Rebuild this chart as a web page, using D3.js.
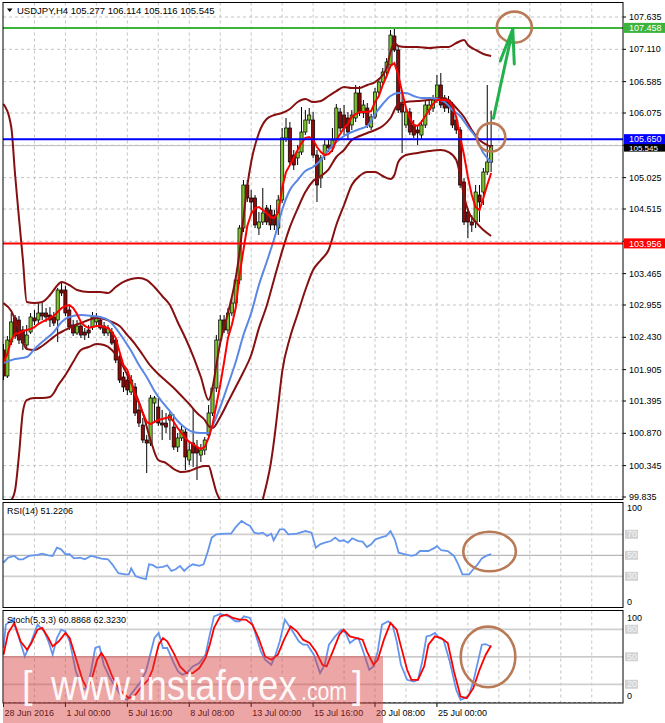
<!DOCTYPE html>
<html><head><meta charset="utf-8">
<script src="https://cdn.jsdelivr.net/npm/d3@7"></script>
<style>
body{margin:0;background:#fff}
svg{display:block}
text{font-family:"Liberation Sans",Arial,sans-serif}
</style>
</head><body>
<svg id="c" width="665" height="723"></svg>
<script>
// ---------------- DATA ----------------
const symbolTitle = "USDJPY,H4";
const lastOHLC = [105.277, 106.114, 105.116, 105.545];
const dateLabels = ["28 Jun 2016","1 Jul 00:00","5 Jul 16:00","8 Jul 08:00","13 Jul 00:00","15 Jul 16:00","20 Jul 08:00","25 Jul 00:00"];
const dateLabelBars = [0,16,32,48,64,80,96,112];
const priceTicks = [107.635,107.110,106.585,106.075,105.550,105.025,104.515,103.990,103.465,102.955,102.430,101.905,101.395,100.870,100.345,99.835];
const hiddenTickLabels = [105.550,103.990];
const hLineValues = [107.458,105.650,103.956];
const bidPrice = 105.545;

const open = [102.224,101.801,102.354,102.744,102.711,102.549,102.305,102.516,102.744,102.711,
102.825,102.825,102.792,102.760,102.711,103.199,103.199,102.874,102.630,102.500,
102.614,102.516,102.549,102.597,102.679,102.711,102.614,102.500,102.516,102.386,
102.110,101.785,101.736,101.541,101.622,101.249,101.005,100.761,100.712,101.362,
101.297,101.037,101.037,101.086,100.972,100.647,100.794,100.891,100.436,100.712,
100.647,100.517,100.599,100.842,101.200,101.606,102.386,102.711,102.549,102.825,
102.987,103.361,104.206,104.905,104.694,104.694,104.206,104.304,104.531,104.499,
104.417,104.206,104.661,105.669,105.831,105.392,105.344,105.441,105.766,105.961,
105.961,105.392,105.019,105.392,105.555,105.506,105.636,106.091,106.042,105.994,
105.880,105.994,106.400,106.075,106.156,105.847,106.010,106.416,106.578,106.741,
106.855,107.326,107.099,106.221,105.880,106.091,105.880,105.799,105.717,105.880,
106.124,106.156,106.286,106.530,106.319,106.286,106.205,105.961,105.799,104.954,
104.466,104.304,104.304,104.742,104.791,105.116,105.277];
const high = [102.321,102.451,102.825,102.792,102.776,102.614,102.630,102.825,102.874,102.987,
102.987,102.906,102.922,102.841,103.231,103.312,103.264,102.939,102.711,102.711,
102.679,102.581,102.630,102.841,102.825,102.776,102.679,102.630,102.581,102.419,
102.142,101.866,101.866,101.817,101.687,101.362,101.119,100.842,101.492,101.476,
101.444,101.249,101.200,101.216,101.184,100.875,101.005,100.956,100.729,101.281,
100.761,100.696,100.810,101.330,101.655,102.467,102.792,102.792,102.906,103.069,
103.442,104.255,104.986,104.986,104.824,104.742,104.466,104.856,104.580,104.580,
104.499,104.742,105.831,105.994,105.929,105.474,105.555,106.172,106.124,106.156,
106.091,105.474,105.392,105.636,105.636,105.831,106.221,106.156,106.205,106.091,
106.124,106.530,106.514,106.286,106.237,106.059,106.481,106.644,106.806,106.968,
107.424,107.472,107.180,106.416,106.156,106.156,105.961,105.864,105.961,106.286,
106.286,106.367,106.692,106.725,106.367,106.351,106.254,106.026,105.847,105.019,
104.531,104.417,104.905,104.905,105.181,106.530,106.114];
const low = [101.736,101.769,102.305,102.402,102.321,102.224,102.256,102.484,102.630,102.646,
102.711,102.679,102.597,102.614,102.354,103.101,102.776,102.549,102.451,102.467,
102.419,102.386,102.419,102.549,102.614,102.549,102.451,102.451,102.305,102.012,
101.687,101.541,101.492,101.492,101.151,100.972,100.712,100.225,100.664,101.037,
100.989,100.761,100.875,100.761,100.599,100.566,100.745,100.274,100.355,100.322,
100.111,100.403,100.517,100.794,101.151,101.541,102.305,102.500,102.484,102.776,
102.922,103.296,104.141,104.629,104.417,104.206,104.092,104.255,104.255,104.174,
104.174,104.092,104.612,105.604,105.230,105.149,105.230,105.392,105.717,105.896,
105.344,104.629,104.856,105.311,105.441,105.441,105.587,105.766,105.717,105.636,
105.799,105.929,106.026,105.994,105.831,105.799,105.977,106.367,106.530,106.676,
106.806,107.066,106.075,105.425,105.831,105.717,105.669,105.555,105.636,105.831,
106.042,106.091,106.237,106.156,106.091,106.075,105.831,105.734,104.856,104.255,
104.044,104.141,104.206,104.304,104.580,105.067,105.116];
const close = [101.801,102.386,102.679,102.451,102.386,102.337,102.467,102.760,102.695,102.825,
102.776,102.760,102.711,102.662,103.199,103.150,102.825,102.597,102.500,102.614,
102.467,102.467,102.500,102.760,102.744,102.581,102.500,102.581,102.337,102.061,
101.736,101.622,101.574,101.736,101.200,101.037,100.761,100.712,101.444,101.444,
101.037,101.005,100.972,101.167,100.647,100.794,100.924,100.485,100.599,100.550,
100.550,100.599,100.761,101.200,101.606,102.386,102.711,102.549,102.825,102.987,
103.361,104.206,104.905,104.694,104.629,104.255,104.304,104.450,104.304,104.255,
104.255,104.661,105.669,105.831,105.279,105.230,105.441,105.766,105.961,106.042,
105.392,104.905,105.344,105.555,105.506,105.636,106.156,105.831,105.831,105.766,
106.042,106.400,106.075,106.205,105.880,106.010,106.416,106.578,106.741,106.903,
107.342,107.099,106.124,106.091,106.091,105.766,105.717,105.750,105.880,106.205,
106.205,106.286,106.530,106.205,106.156,106.156,105.880,105.799,104.905,104.304,
104.304,104.255,104.791,104.629,105.116,105.279,105.545];

// fast moving average (red), one value per bar
const fastMA = [102.028,102.158,102.386,102.484,102.500,102.532,102.549,102.565,102.597,102.646,
102.679,102.711,102.744,102.776,102.841,102.906,102.939,102.955,102.906,102.809,
102.679,102.614,102.581,102.597,102.614,102.614,102.597,102.581,102.516,102.419,
102.191,101.980,101.899,101.704,101.492,101.362,101.200,101.054,101.021,101.054,
101.086,101.102,101.119,101.135,101.054,100.956,100.875,100.794,100.729,100.696,
100.647,100.615,100.647,100.794,101.005,101.330,101.655,102.028,102.419,102.630,
102.906,103.442,103.849,104.239,104.434,104.531,104.547,104.499,104.450,104.385,
104.369,104.466,104.856,105.116,105.230,105.344,105.474,105.587,105.669,105.685,
105.636,105.522,105.441,105.392,105.409,105.474,105.636,105.734,105.831,105.896,
106.010,106.059,106.091,106.091,106.091,106.107,106.254,106.351,106.530,106.676,
106.839,106.887,106.692,106.416,106.156,105.994,105.880,105.864,105.929,106.026,
106.124,106.221,106.286,106.286,106.286,106.270,106.189,106.010,105.685,105.392,
105.035,104.742,104.547,104.499,104.694,104.905,105.100];

// slow moving average (blue): [bar, price]
const slowMA = [[0,102.012],[3,102.077],[6,102.110],[8,102.240],[10,102.354],[13,102.516],[15,102.679],[17,102.760],[20,102.792],[23,102.776],[25,102.760],[27,102.711],[29,102.581],[31,102.402],[33,102.207],[35,101.980],[37,101.785],[39,101.557],[41,101.379],[43,101.232],[45,101.070],[47,100.956],[49,100.891],[51,100.875],[53,100.875],[54,100.990],[56,101.297],[58,101.655],[60,102.028],[62,102.467],[64,102.825],[66,103.280],[68,103.653],[70,104.044],[72,104.499],[74,104.824],[76,104.986],[78,105.132],[80,105.197],[82,105.311],[84,105.474],[86,105.604],[88,105.701],[90,105.766],[92,105.815],[94,105.864],[96,106.059],[98,106.221],[100,106.351],[102,106.400],[104,106.400],[106,106.351],[108,106.319],[110,106.319],[112,106.302],[114,106.254],[116,106.124],[118,106.026],[120,105.847],[122,105.685],[124,105.425],[126,105.279]];

// Bollinger bands (dark red): [bar, price]
const bbUpper = [[0,106.221],[2,105.847],[3,105.067],[4,104.369],[5,103.700],[6,103.004],[8,102.987],[10,103.004],[12,103.117],[14,103.280],[15,103.329],[17,103.280],[19,103.199],[22,103.166],[25,103.166],[27,103.150],[29,103.247],[31,103.329],[33,103.377],[35,103.394],[37,103.361],[39,103.247],[41,103.101],[43,102.955],[45,102.679],[47,102.419],[49,102.126],[51,101.785],[53,101.411],[54,101.606],[55,101.980],[56,102.337],[58,102.825],[60,103.394],[61,103.816],[62,104.369],[63,104.889],[64,105.279],[66,105.750],[68,105.977],[70,106.042],[72,106.075],[74,106.140],[76,106.254],[78,106.302],[80,106.254],[82,106.270],[84,106.351],[86,106.432],[88,106.497],[90,106.481],[92,106.481],[94,106.530],[96,106.578],[98,106.692],[99,106.806],[100,107.066],[101,107.212],[102,107.164],[104,107.147],[107,107.147],[110,107.131],[113,107.147],[115,107.147],[117,107.212],[119,107.261],[120,107.180],[122,107.099],[124,107.034],[126,107.001]];
const bbMiddle = [[0,102.987],[2,102.857],[4,102.549],[6,102.240],[8,102.224],[10,102.289],[12,102.386],[14,102.484],[16,102.549],[18,102.614],[20,102.662],[22,102.711],[24,102.744],[26,102.727],[28,102.679],[30,102.614],[32,102.467],[34,102.321],[36,102.142],[38,101.964],[40,101.834],[42,101.720],[44,101.606],[46,101.476],[48,101.346],[50,101.200],[52,101.086],[53,100.989],[54,100.956],[56,101.135],[58,101.379],[60,101.622],[62,101.866],[64,102.142],[66,102.580],[68,102.940],[70,103.390],[72,103.830],[74,104.220],[76,104.520],[78,104.790],[80,104.970],[82,105.050],[84,105.160],[86,105.360],[88,105.474],[90,105.636],[92,105.701],[94,105.750],[96,105.799],[98,105.864],[100,105.994],[102,106.221],[104,106.254],[107,106.270],[110,106.286],[113,106.319],[115,106.286],[117,106.156],[119,106.010],[121,105.799],[123,105.636],[125,105.555],[126,105.522]];
const bbLower = [[0,99.750],[1,99.750],[2,99.786],[3,99.949],[4,100.517],[5,101.216],[6,101.411],[8,101.444],[10,101.444],[12,101.460],[13,101.525],[14,101.639],[16,101.817],[18,102.028],[20,102.224],[22,102.272],[24,102.321],[26,102.305],[28,102.224],[30,102.061],[32,101.817],[34,101.541],[36,101.200],[38,100.761],[40,100.436],[42,100.387],[44,100.290],[46,100.241],[48,100.257],[50,100.306],[52,100.339],[53,100.339],[54,100.144],[55,99.916],[56,99.786],[58,99.700],[60,99.550],[62,99.360],[64,99.050],[66,99.410],[67,99.786],[68,100.050],[69,100.355],[70,100.794],[71,101.330],[72,101.866],[74,102.419],[76,102.809],[78,103.199],[80,103.524],[82,103.686],[84,103.849],[86,104.255],[88,104.580],[90,104.905],[92,105.051],[94,105.116],[96,105.116],[98,105.051],[100,105.002],[101,105.067],[102,105.279],[104,105.392],[107,105.425],[110,105.457],[113,105.474],[115,105.441],[117,105.311],[118,105.067],[119,104.726],[120,104.499],[122,104.304],[124,104.174],[126,104.076]];

// RSI(14): [bar, value]
const rsiLabel = "RSI(14) 51.2206";
const rsiLevels = [70,50,30];
const rsi = [[0,43],[1.2,47.8],[2.8,49.4],[3.9,46.2],[5,46.2],[6.6,49.4],[8.8,50.3],[10,51.6],[11.6,50],[12.7,49.4],[13.8,57.3],[14.9,55.7],[16,51],[17.1,51],[18.2,47.1],[19.8,47.8],[21,46.2],[22.6,49.4],[23.7,48.4],[25.3,46.8],[27,46.2],[28.1,41.4],[29.7,32.9],[31.3,31.9],[32.4,31.9],[33,37.6],[34.1,30.3],[35.2,28.8],[36.8,27.2],[37.6,41.4],[38.5,40.8],[39.6,38.3],[41.2,38.9],[42.3,40.5],[43.4,35.1],[44.5,36.7],[45.6,39.9],[46.7,35.1],[47.8,38.9],[48.9,41.4],[50.6,39.9],[51.7,41.4],[52.7,52.5],[53.8,66.8],[55,70],[57.1,70.6],[58.8,70.6],[59.9,76.3],[61.5,82.7],[62.6,80.1],[63.7,77.9],[64.8,71.6],[65.9,70.6],[67,71.6],[68.1,68.4],[69.2,70.6],[69.8,64.3],[71.4,74.7],[72.5,74.7],[73.6,70],[75.8,70.6],[78,73.1],[79.6,71.6],[80.7,57.3],[81.8,60.5],[83,62],[84.6,63.6],[85.7,66.8],[86.8,63.6],[87.9,64.3],[89,62],[90.1,66.2],[91.7,63.6],[92.8,63],[93.9,57.9],[95,60.5],[96.1,65.2],[97.8,67.4],[98.9,68.4],[100,73.1],[101.1,65.2],[102.1,52.5],[103.8,51],[105.4,49.4],[106.5,50.3],[107.6,54.1],[109.8,54.1],[111.5,57.3],[112,58.9],[113.1,54.8],[114.8,54.1],[116.4,49.4],[117.5,41.4],[118.6,31.9],[120.3,31.9],[121.4,36.7],[122.5,41.4],[123.6,47.1],[124.7,49.4],[126,51.2]];

// Stochastic(5,3,3): [bar, value]
const stochLabel = "Stoch(5,3,3) 60.8868 62.3230";
const stochLevels = [80,50,20];
const stochMain = [[0,59.6],[0.6,85.1],[2.3,90.6],[3.9,72.3],[5.5,50.4],[7.2,66.9],[8.8,85.1],[10.5,77.8],[11.6,66.9],[12.7,52.3],[13.8,70.5],[14.9,79.6],[16,77.8],[17.1,66.9],[18.7,34],[20.4,15.8],[21.5,13.9],[22.6,34],[23.7,59.6],[24.8,61.4],[25.9,41.3],[27.5,26.7],[29.1,15.8],[30.8,4.8],[31.9,3],[33.5,12.1],[35.2,21.2],[36.8,34],[37.9,52.3],[39,70.5],[40.1,76],[41.2,59.6],[42.3,59.6],[44,43.1],[45.1,34],[46.2,30.4],[47.3,32.2],[48.9,39.5],[50.6,43.1],[52.2,52.3],[53.3,74.2],[54.4,94.2],[56,96.8],[58.2,94.2],[59.9,88.8],[61,88.8],[62.1,94.2],[63.7,92.4],[64.8,79.6],[66.5,55.9],[67.6,46.8],[69.2,41.3],[70.3,52.3],[71.4,66.9],[72.7,90.6],[73.6,85.1],[74.7,77.8],[76.3,66.9],[77.4,63.2],[78.5,63.2],[80.2,52.3],[81.8,32.2],[83,41.3],[84.1,63.2],[85.7,72.3],[87.3,79.6],[88.4,76],[89.5,65],[90.6,68.7],[91.7,70.5],[92.8,57.7],[94.5,35.8],[95.6,39.5],[96.7,55.9],[97.8,85.1],[99.4,88.8],[100.5,85.1],[101.6,66.9],[102.7,41.3],[104.3,24.9],[106,23],[107.1,24.9],[108.2,44.9],[109.3,72.3],[110.4,73.4],[111.5,76],[112.6,70.5],[113.7,68.7],[115.3,44.9],[117,13.9],[118.1,3],[119.2,4.8],[120.3,8.5],[121.4,23],[122.5,43.1],[123.6,63.2],[124.6,63.9],[126,60.9]];
const stochSignal = [[0,52.3],[1.2,76],[2.8,86.9],[4.4,66.9],[6.1,57.7],[7.2,65],[8.8,79.6],[10,81.5],[11.6,70.5],[12.7,61.4],[14.3,66.9],[16,76],[17.1,70.5],[18.7,48.6],[20.4,24.9],[21.5,15.8],[22.6,23],[24.2,46.8],[25.3,54.1],[26.4,46.8],[28.1,28.5],[29.7,15.8],[31.3,8.5],[32.4,4.8],[34.1,8.5],[35.7,17.6],[37.4,24.9],[38.5,35.8],[40.1,63.2],[41.2,70.5],[42.3,66.9],[44,54.1],[45.6,39.5],[47.3,32.2],[48.9,32.2],[50.6,37.7],[52.2,48.6],[53.3,63.2],[54.4,81.5],[56,94.2],[57.7,96],[59.3,92.4],[61,90.6],[62.6,90.6],[64.3,85.1],[65.9,70.5],[67.6,50.4],[69.2,46.8],[70.9,52.3],[72.5,68.7],[74.2,83.3],[75.8,77.8],[77.4,68.7],[79.1,65],[80.7,55.9],[82.4,41.3],[83.5,39.5],[85.1,55.9],[86.8,74.2],[87.9,79.6],[89.5,72.3],[91.2,70.5],[92.8,68.7],[93.9,55.9],[95.6,41.3],[96.7,46.8],[98.3,68.7],[100,86.9],[101.6,79.6],[102.7,61.4],[104.3,35.8],[105.4,24.9],[107.1,24.9],[108.7,39.5],[109.8,63.2],[111.5,72.3],[113.1,70.5],[114.8,65],[116.4,34],[118.1,6.6],[119.7,4.8],[121.4,15.8],[123,35.8],[124.6,52.3],[126,62.3]];

// hand-drawn annotations (data coordinates)
const priceCircles = [[132.0,107.47],[126.0,105.68]];
const rsiCircle = [125.6,53.6];
const stochCircle = [125.2,49.9];
const arrowFrom = [126.6,105.99], arrowTo = [131.6,107.44];
const watermark = ["[","www.instaforex",".com","]"];

// ---------------- LAYOUT ----------------
const svg = d3.select("#c");
const PL = 3, PR = 623;
const mainP = {t:2.5, b:499.5}, rsiP = {t:502.5, b:607.5}, stP = {t:610.5, b:703};
const x = d3.scaleLinear().domain([0,160]).range([3.5, 3.5+3.87*160]);
const y = d3.scaleLinear().domain([99.835,107.635]).range([497,17]);
const yR = d3.scaleLinear().domain([0,100]).range([607.8,502.8]);
const yS = d3.scaleLinear().domain([0,100]).range([702.6,611]);
const gridBars = d3.range(8,160,8);

const defs = svg.append("defs");
function clip(id,p){defs.append("clipPath").attr("id",id).append("rect").attr("x",PL).attr("y",p.t).attr("width",PR-PL).attr("height",p.b-p.t);}
clip("cm",mainP); clip("cr",rsiP); clip("cs",stP);

svg.append("rect").attr("width",665).attr("height",723).attr("fill","#fff");

function vgrid(g,p){
  g.selectAll(null).data(gridBars).join("line")
    .attr("x1",d=>x(d)).attr("x2",d=>x(d)).attr("y1",p.t).attr("y2",p.b)
    .attr("stroke","#c4c4c4").attr("stroke-dasharray","3,3").attr("stroke-width",1);
}

// ---------- main panel ----------
const gm = svg.append("g").attr("clip-path","url(#cm)");
vgrid(gm,mainP);
gm.selectAll(null).data(priceTicks).join("line")
  .attr("x1",PL).attr("x2",PR).attr("y1",d=>y(d)).attr("y2",d=>y(d))
  .attr("stroke","#c4c4c4").attr("stroke-dasharray","3,3");

gm.append("line").attr("x1",PL).attr("x2",PR).attr("y1",y(bidPrice)).attr("y2",y(bidPrice))
  .attr("stroke","#bcbcbc").attr("stroke-width",1);

// candles
const idx = d3.range(open.length);
gm.selectAll(null).data(idx).join("line")
  .attr("x1",i=>x(i)).attr("x2",i=>x(i)).attr("y1",i=>y(high[i])).attr("y2",i=>y(low[i]))
  .attr("stroke","#000").attr("stroke-width",1);
gm.selectAll(null).data(idx).join("rect")
  .attr("x",i=>x(i)-1.6).attr("width",3.2)
  .attr("y",i=>y(Math.max(open[i],close[i])))
  .attr("height",i=>Math.max(1,Math.abs(y(open[i])-y(close[i]))))
  .attr("fill",i=>close[i]>=open[i]?"#7cc22a":"#8b0a0a")
  .attr("stroke","#000").attr("stroke-width",0.7);

// indicators
const pairLine = d3.line().x(d=>x(d[0])).y(d=>y(d[1])).curve(d3.curveMonotoneX);
[bbUpper,bbMiddle,bbLower].forEach(s=>{
  gm.append("path").attr("d",pairLine(s)).attr("fill","none").attr("stroke","#861010").attr("stroke-width",2);
});
gm.append("path").attr("d",pairLine(slowMA)).attr("fill","none").attr("stroke","#5a86e6").attr("stroke-width",2);
gm.append("path").attr("d",d3.line().x((d,i)=>x(i)).y(d=>y(d))(fastMA))
  .attr("fill","none").attr("stroke","#ff0000").attr("stroke-width",2);

const hColors = ["#3cb43c","#0000ff","#ff0000"];
gm.selectAll(null).data(hLineValues).join("line")
  .attr("x1",PL).attr("x2",PR).attr("y1",d=>y(d)).attr("y2",d=>y(d))
  .attr("stroke",(d,i)=>hColors[i]).attr("stroke-width",2);

// ---------- RSI panel ----------
const gr = svg.append("g").attr("clip-path","url(#cr)");
vgrid(gr,rsiP);
gr.selectAll(null).data(rsiLevels).join("line")
  .attr("x1",PL).attr("x2",PR).attr("y1",d=>yR(d)).attr("y2",d=>yR(d))
  .attr("stroke",d=>d===50?"#b8b8b8":"#cfcfcf").attr("stroke-width",d=>d===50?1.2:1.8);
gr.append("path").attr("d",d3.line().x(d=>x(d[0])).y(d=>yR(d[1]))(rsi))
  .attr("fill","none").attr("stroke","#6495ed").attr("stroke-width",1.8);

// ---------- Stochastic panel ----------
const gs = svg.append("g").attr("clip-path","url(#cs)");
vgrid(gs,stP);
gs.selectAll(null).data(stochLevels).join("line")
  .attr("x1",PL).attr("x2",PR).attr("y1",d=>yS(d)).attr("y2",d=>yS(d))
  .attr("stroke",d=>d===50?"#b8b8b8":"#cfcfcf").attr("stroke-width",d=>d===50?1.2:1.8);
gs.append("line").attr("x1",PL).attr("x2",PR).attr("y1",yS(0)).attr("y2",yS(0))
  .attr("stroke","#9a9a9a").attr("stroke-dasharray","3,2");
gs.append("path").attr("d",d3.line().x(d=>x(d[0])).y(d=>yS(d[1]))(stochMain))
  .attr("fill","none").attr("stroke","#6495ed").attr("stroke-width",1.8);
gs.append("path").attr("d",d3.line().x(d=>x(d[0])).y(d=>yS(d[1]))(stochSignal))
  .attr("fill","none").attr("stroke","#ff0000").attr("stroke-width",1.8);

// ---------- frames ----------
[mainP,rsiP,stP].forEach(p=>{
  svg.append("rect").attr("x",PL).attr("y",p.t).attr("width",PR-PL).attr("height",p.b-p.t)
    .attr("fill","none").attr("stroke","#000").attr("stroke-width",1);
});

// ---------- right price axis ----------
const ga = svg.append("g").attr("font-size",9).attr("fill","#000");
ga.selectAll(null).data(priceTicks).join("line")
  .attr("x1",PR).attr("x2",PR+3).attr("y1",d=>y(d)).attr("y2",d=>y(d)).attr("stroke","#000");
ga.selectAll(null).data(priceTicks.filter(v=>!hiddenTickLabels.includes(v))).join("text")
  .attr("x",629).attr("y",d=>y(d)).attr("dy","0.35em").text(d=>d.toFixed(3));

// bid tag sits just under the 105.650 tag
const yb = y(bidPrice);
svg.append("rect").attr("x",624).attr("y",yb-4).attr("width",41).attr("height",10).attr("fill","#000");
svg.append("text").attr("x",629).attr("y",yb+5.6).attr("font-size",8).attr("fill","#fff").text(bidPrice.toFixed(3));
function tag(v,bg,fg){
  const yy = y(v);
  svg.append("rect").attr("x",624).attr("y",yy-5).attr("width",41).attr("height",10).attr("fill",bg);
  svg.append("text").attr("x",629).attr("y",yy).attr("dy","0.35em").attr("font-size",9).attr("fill",fg).text(v.toFixed(3));
}
hLineValues.forEach((v,i)=>tag(v,hColors[i],"#fff"));

function levelTag(yy,txt){
  svg.append("rect").attr("x",625).attr("y",yy-4.5).attr("width",13).attr("height",9).attr("fill","#d2d2d2");
  svg.append("text").attr("x",627).attr("y",yy).attr("dy","0.35em").attr("font-size",9).attr("fill","#f6f6f6").text(txt);
}
svg.append("text").attr("x",627).attr("y",yR(100)+5.5).attr("dy","0.35em").attr("font-size",9).text("100");
svg.append("text").attr("x",627).attr("y",yR(0)-6).attr("dy","0.35em").attr("font-size",9).text("0");
rsiLevels.forEach(v=>levelTag(yR(v),String(v)));
svg.append("text").attr("x",627).attr("y",yS(100)+6.7).attr("dy","0.35em").attr("font-size",9).text("100");
svg.append("text").attr("x",627).attr("y",yS(0)-7).attr("dy","0.35em").attr("font-size",9).text("0");
stochLevels.forEach(v=>levelTag(yS(v),String(v)));

// ---------- time axis ----------
const gt = svg.append("g");
gt.selectAll(null).data(dateLabelBars).join("line")
  .attr("x1",d=>x(d)).attr("x2",d=>x(d)).attr("y1",stP.b).attr("y2",stP.b+4).attr("stroke","#000");
gt.selectAll(null).data(dateLabels).join("text")
  .attr("x",(d,i)=>x(dateLabelBars[i])+1).attr("y",716).attr("font-size",9).attr("fill","#000").text(d=>d);

// ---------- titles ----------
svg.append("path").attr("d","M7,8.5 L12.5,8.5 L9.75,12 Z").attr("fill","#000");
svg.append("text").attr("x",17).attr("y",14).attr("font-size",9.5).attr("fill","#000")
  .text(symbolTitle+"  "+lastOHLC.map(v=>v.toFixed(3)).join(" "));
svg.append("text").attr("x",7).attr("y",513.5).attr("font-size",9).attr("fill","#000").text(rsiLabel);
svg.append("text").attr("x",7).attr("y",622.5).attr("font-size",9).attr("fill","#000").text(stochLabel);

// ---------- annotations ----------
const brown = "#b97a57";
const circR = [[17.5,15.5],[14.2,14.2]];
priceCircles.forEach((c,i)=>{
  svg.append("ellipse").attr("cx",x(c[0])).attr("cy",y(c[1])).attr("rx",circR[i][0]).attr("ry",circR[i][1])
    .attr("fill","none").attr("stroke",brown).attr("stroke-width",2.6);
});
svg.append("ellipse").attr("cx",x(rsiCircle[0])).attr("cy",yR(rsiCircle[1])).attr("rx",26.3).attr("ry",19.7)
  .attr("fill","none").attr("stroke",brown).attr("stroke-width",2.6);
svg.append("ellipse").attr("cx",x(stochCircle[0])).attr("cy",yS(stochCircle[1])).attr("rx",27.3).attr("ry",30.3)
  .attr("fill","none").attr("stroke",brown).attr("stroke-width",2.6);

const ax0 = x(arrowFrom[0]), ay0 = y(arrowFrom[1]), ax1 = x(arrowTo[0]), ay1 = y(arrowTo[1]);
const green = "#22b14c";
svg.append("line").attr("x1",ax0).attr("y1",ay0).attr("x2",ax1).attr("y2",ay1)
  .attr("stroke",green).attr("stroke-width",3).attr("stroke-linecap","round");
svg.append("polyline").attr("points",`${ax1-12.5},${ay1+32} ${ax1},${ay1} ${ax1+1.5},${ay1+35}`)
  .attr("fill","none").attr("stroke",green).attr("stroke-width",3).attr("stroke-linecap","round").attr("stroke-linejoin","round");

// ---------- watermark ----------
const wm = svg.append("g");
wm.append("rect").attr("x",3).attr("y",656).attr("width",380).attr("height",67)
  .attr("fill","rgb(214,58,58)").attr("opacity",0.45);
const wmParts = [
  {t:watermark[0], x:22,  y:698, fs:38, sx:1},
  {t:watermark[1], x:51,  y:700, fs:43, sx:0.85},
  {t:watermark[2], x:301, y:700, fs:25, sx:0.85},
  {t:watermark[3], x:352, y:698, fs:38, sx:1}
];
wmParts.forEach(p=>{
  wm.append("text").attr("transform",`translate(${p.x},${p.y}) scale(${p.sx},1)`)
    .attr("font-size",p.fs).attr("fill","#fff").attr("opacity",0.92).text(p.t);
});
</script>
</body></html>
